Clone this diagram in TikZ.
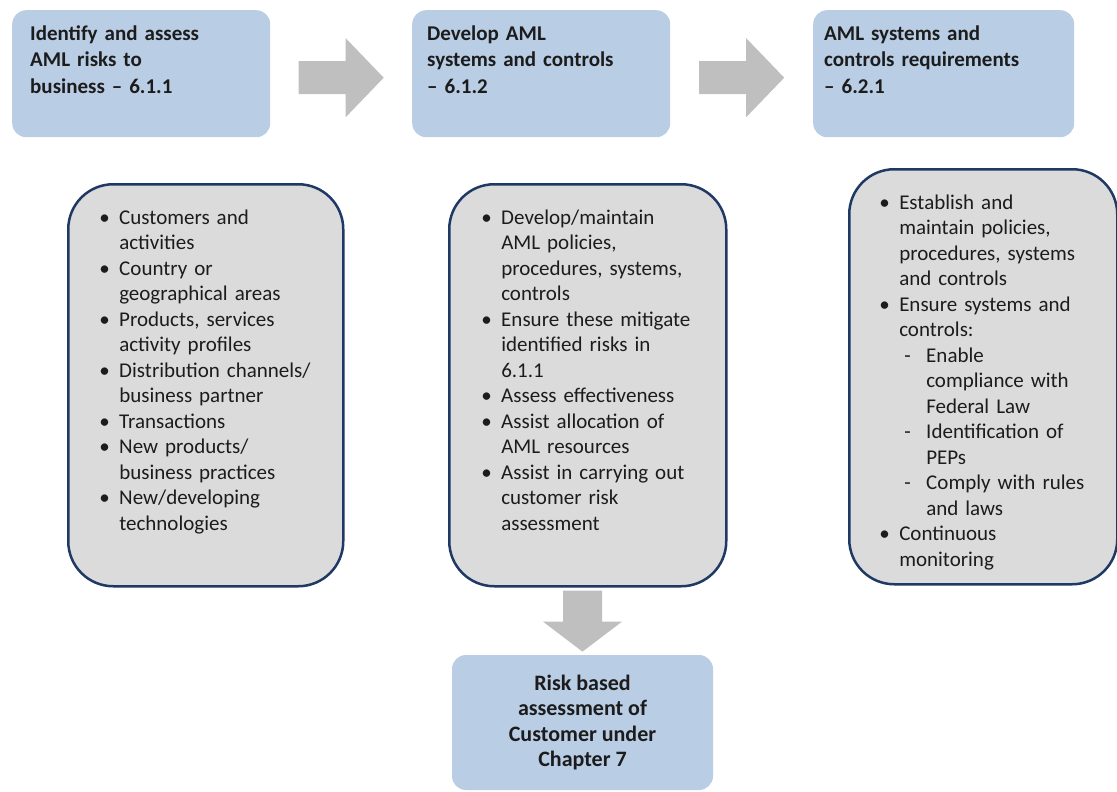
\documentclass[tikz,border=0pt]{standalone}
\usepackage{fontspec}
\setmainfont{Carlito}
\usepackage{xcolor}
\usepackage{tikz}
\usetikzlibrary{positioning,calc}
\definecolor{boxblue}{RGB}{185,205,229}
\definecolor{panelgray}{RGB}{219,219,219}
\definecolor{bordernavy}{RGB}{31,56,100}
\definecolor{arrowgray}{RGB}{191,191,191}
\definecolor{textdark}{RGB}{28,28,28}
% bullet and dash items with hanging indent
\newcommand{\bl}[1]{\hangindent=20pt\hangafter=1\noindent\makebox[20pt][l]{\textbullet}#1\par}
\newcommand{\subl}[1]{\hangindent=47pt\hangafter=1\noindent\hspace*{25pt}\makebox[22pt][l]{-}#1\par}

\begin{document}
\begin{tikzpicture}[
    x=1pt, y=-1pt,
    topbox/.style={fill=boxblue, rounded corners=14pt, anchor=north west, inner ysep=0pt, inner xsep=14pt, align=left, text=textdark, font=\bfseries\fontsize{21}{26.5}\selectfont, text height=30pt, text depth=97pt},
    listbox/.style={draw=bordernavy, line width=2.5pt, fill=panelgray, rounded corners=45pt, anchor=north west, inner ysep=0pt, inner xsep=32pt, align=left, text=textdark, font=\fontsize{21}{25.5}\selectfont, text height=40pt, text depth=362pt},
    endbox/.style={fill=boxblue, rounded corners=14pt, minimum width=261pt, minimum height=135pt, align=center, text=textdark, font=\bfseries\fontsize{22}{25.5}\selectfont},
    bigarrow/.style={fill=arrowgray}
]
\useasboundingbox (0,0) rectangle (1117,792);

% Top row
\node[topbox, inner xsep=18pt, text width=222pt] (b1) at (12,10) {Identify and assess\newline AML risks to\newline business -- 6.1.1};
\node[topbox, inner xsep=15pt, text width=228pt] (b2) at (412,10) {Develop AML\newline systems and controls\newline -- 6.1.2};
\node[topbox, inner xsep=11pt, text width=239pt] (b3) at (813,10) {AML systems and\newline controls requirements\newline -- 6.2.1};

% Detail panels
\node[listbox, inner xsep=31pt, text width=213pt] (la) at (67,183) {%
  \bl{Customers and\newline activities}
  \bl{Country or\newline geographical areas}
  \bl{Products, services\newline activity profiles}
  \bl{Distribution channels/\newline business partner}
  \bl{Transactions}
  \bl{New products/\newline business practices}
  \bl{New/developing\newline technologies}};
\node[listbox, text width=213pt] (lb) at (448,183) {%
  \bl{Develop/maintain\newline AML policies,\newline procedures, systems,\newline controls}
  \bl{Ensure these mitigate\newline identified risks in\newline 6.1.1}
  \bl{Assess effectiveness}
  \bl{Assist allocation of\newline AML resources}
  \bl{Assist in carrying out\newline customer risk\newline assessment}};
\node[listbox, inner xsep=30pt, text width=208pt, text depth=375pt] (lc) at (848,168) {%
  \bl{Establish and\newline maintain policies,\newline procedures, systems\newline and controls}
  \bl{Ensure systems and\newline controls:}
  \subl{Enable\newline compliance with\newline Federal Law}
  \subl{Identification of\newline PEPs}
  \subl{Comply with rules\newline and laws}
  \bl{Continuous\newline monitoring}};

% Result
\node[endbox] (bt) at (582.5,722.5) {Risk based\\assessment of\\Customer under\\Chapter 7};

% Block arrows
\fill[bigarrow] ($(b1.east)!0.5!(b2.west)+(0,4)$) ++(-42.5,-16.5) -- ++(47,0) -- ++(0,-23) -- ++(38,39.5) -- ++(-38,39.5) -- ++(0,-23) -- ++(-47,0) -- cycle;
\fill[bigarrow] ($(b2.east)!0.5!(b3.west)+(0,4)$) ++(-42.5,-16.5) -- ++(47,0) -- ++(0,-23) -- ++(38,39.5) -- ++(-38,39.5) -- ++(0,-23) -- ++(-47,0) -- cycle;
\fill[bigarrow] ($(lb.south -| bt.north)!0.5!(bt.north)$) ++(-19.5,-30.5) -- ++(0,31) -- ++(-20,0) -- ++(39.5,30) -- ++(39.5,-30) -- ++(-20,0) -- ++(0,-31) -- cycle;

\end{tikzpicture}
\end{document}
